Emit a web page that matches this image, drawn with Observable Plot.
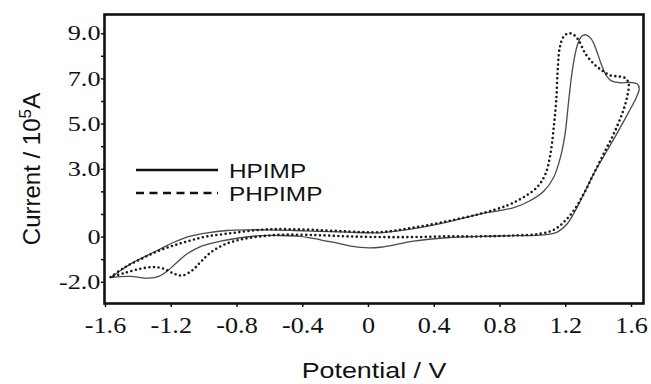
<!DOCTYPE html>
<html>
<head>
<meta charset="utf-8">
<script src="https://cdn.jsdelivr.net/npm/d3@7"></script>
<script src="https://cdn.jsdelivr.net/npm/@observablehq/plot@0.6"></script>
<style>
  html, body { margin: 0; padding: 0; background: white; }
</style>
</head>
<body>
<div id="chart"></div>
<script>
// ---- data (potential in V, current in 10^-5 A) ----
const seriesNames = ["HPIMP", "PHPIMP"];

const hpimpV = [-1.569,-1.508,-1.428,-1.346,-1.265,-1.184,-1.083,-0.981,-0.86,-0.738,-0.616,-0.454,-0.292,-0.13,0.073,0.276,0.479,0.68,0.884,0.985,1.066,1.127,1.168,1.196,1.218,1.243,1.27,1.296,1.324,1.355,1.387,1.415,1.447,1.482,1.533,1.594,1.634,1.647,1.63,1.583,1.522,1.452,1.381,1.32,1.259,1.209,1.148,1.066,0.884,0.68,0.476,0.273,0.073,-0.049,-0.17,-0.292,-0.414,-0.535,-0.657,-0.779,-0.9,-1.022,-1.103,-1.164,-1.215,-1.276,-1.336,-1.448,-1.549,-1.569];
const hpimpI = [-1.80,-1.48,-1.11,-0.81,-0.52,-0.23,0.04,0.19,0.29,0.32,0.32,0.29,0.25,0.22,0.19,0.37,0.66,1.03,1.30,1.62,2.03,2.65,3.54,4.57,6.04,7.52,8.48,8.88,8.95,8.77,8.26,7.67,7.15,6.90,6.83,6.84,6.78,6.56,6.19,5.53,4.72,3.83,2.95,2.06,1.18,0.59,0.22,0.10,0.06,0.03,-0.03,-0.18,-0.45,-0.46,-0.30,-0.12,0.03,0.07,0.06,-0.03,-0.18,-0.42,-0.74,-1.11,-1.45,-1.74,-1.82,-1.74,-1.77,-1.80];

const phpimpV = [-1.569,-1.488,-1.387,-1.286,-1.184,-1.083,-0.981,-0.86,-0.738,-0.616,-0.494,-0.333,-0.13,0.073,0.276,0.479,0.68,0.844,0.945,1.026,1.077,1.107,1.127,1.142,1.152,1.164,1.188,1.218,1.249,1.279,1.32,1.37,1.421,1.472,1.522,1.563,1.583,1.573,1.543,1.492,1.431,1.37,1.31,1.249,1.188,1.127,1.046,0.884,0.68,0.476,0.276,0.073,-0.13,-0.333,-0.535,-0.657,-0.779,-0.88,-0.961,-1.022,-1.073,-1.133,-1.184,-1.245,-1.306,-1.387,-1.488,-1.569];
const phpimpI = [-1.77,-1.36,-0.98,-0.64,-0.37,-0.15,0.03,0.15,0.26,0.34,0.35,0.32,0.25,0.22,0.42,0.70,1.03,1.40,1.77,2.21,2.80,3.69,4.86,6.04,7.52,8.40,8.88,9.02,8.95,8.70,8.11,7.67,7.37,7.15,7.11,7.03,6.78,6.19,5.46,4.57,3.69,2.80,1.92,1.18,0.66,0.32,0.15,0.07,0.03,0.03,0.00,0.00,0.03,0.09,0.10,0.03,-0.11,-0.34,-0.69,-1.11,-1.48,-1.70,-1.62,-1.40,-1.33,-1.40,-1.60,-1.77];

// ---- axis ticks & labels ----
const xTicks = [-1.6,-1.2,-0.8,-0.4,0,0.4,0.8,1.2,1.6];
const xTickLabels = ["-1.6","-1.2","-0.8","-0.4","0","0.4","0.8","1.2","1.6"];
const yTicks = [-2,-1,0,1,2,3,4,5,6,7,8,9];
const yLabelValues = [9,7,5,3,0,-2];
const yTickLabels = ["9.0","7.0","5.0","3.0","0","-2.0"];
const xTitle = "Potential / V";
const yTitleParts = ["Current / 10", "5", "A"];

// ---- build tables ----
const hpimp = hpimpV.map((v, k) => ({v, i: hpimpI[k]}));
const phpimp = phpimpV.map((v, k) => ({v, i: phpimpI[k]}));
const xLab = new Map(xTicks.map((t, k) => [t, xTickLabels[k]]));
const yLab = new Map(yLabelValues.map((t, k) => [t, yTickLabels[k]]));

const serif = "'Liberation Serif', 'Times New Roman', serif";
const sans = "'Liberation Sans', Arial, sans-serif";

const chart = Plot.plot({
  width: 651,
  height: 384,
  marginLeft: 104,
  marginRight: 8,
  marginTop: 14,
  marginBottom: 81,
  style: {background: "white", color: "#111", overflow: "visible"},
  x: {domain: [-1.606, 1.673]},
  y: {domain: [-2.94, 9.85]},
  marks: [
    Plot.axisY(yTicks, {
      anchor: "left", label: null, tickSize: 3, tickPadding: 1,
      strokeWidth: 1.5,
      tickFormat: d => yLab.has(d) ? yLab.get(d) : "",
      fontFamily: serif, fontSize: 21
    }),
    Plot.axisX(xTicks, {
      anchor: "bottom", label: null, tickSize: 4, tickPadding: 9,
      strokeWidth: 1.5,
      tickFormat: d => xLab.get(d),
      fontFamily: serif, fontSize: 23
    }),
    Plot.line(hpimp, {x: "v", y: "i", curve: "catmull-rom", stroke: "#4a4a4a", strokeWidth: 1.3}),
    Plot.line(phpimp, {x: "v", y: "i", curve: "catmull-rom", stroke: "#1a1a1a", strokeWidth: 2.6,
      strokeDasharray: "0,4.6", strokeLinecap: "round"}),
    Plot.frame({stroke: "#111", strokeWidth: 2.6}),
    Plot.text([xTitle], {frameAnchor: "bottom", textAnchor: "middle", lineAnchor: "middle", dy: 67,
      fontFamily: sans, fontSize: 22, fill: "#111", className: "xtitle"}),
    Plot.text([yTitleParts.join("")], {frameAnchor: "left", textAnchor: "middle", lineAnchor: "middle",
      rotate: -90, dx: -72, dy: 10, fontFamily: sans, fontSize: 24, fill: "#111", className: "ytitle"})
  ]
});

document.getElementById("chart").appendChild(chart);
const svg = d3.select(chart);

// superscript in the y title
svg.selectAll(".ytitle text").each(function() {
  const t = d3.select(this);
  t.text(null);
  t.append("tspan").text(yTitleParts[0]);
  t.append("tspan").attr("dy", "-0.55em").attr("font-size", "0.72em").text(yTitleParts[1]);
  t.append("tspan").attr("dy", "0.4em").text(yTitleParts[2]);
});

// legend
const legend = svg.append("g").attr("class", "legend").attr("text-anchor", "start");
const legendStyles = [
  {dash: null, y: 170},
  {dash: "8,5.5", y: 193}
];
seriesNames.forEach((name, k) => {
  const s = legendStyles[k];
  const ln = legend.append("line")
    .attr("x1", 136).attr("x2", 218).attr("y1", s.y).attr("y2", s.y)
    .attr("stroke", "#111").attr("stroke-width", 2.6);
  if (s.dash) ln.attr("stroke-dasharray", s.dash);
  legend.append("text")
    .attr("x", 229).attr("y", s.y).attr("dy", "0.36em")
    .attr("text-anchor", "start")
    .attr("font-family", sans).attr("font-size", 21).attr("fill", "#111")
    .attr("class", "legtext")
    .text(name);
});

// the reference is rendered slightly wide: stretch horizontal texts
function stretch(sel, factor) {
  sel.each(function() {
    const w = this.getComputedTextLength();
    if (w > 0) {
      this.setAttribute("textLength", w * factor);
      this.setAttribute("lengthAdjust", "spacingAndGlyphs");
    }
  });
}
stretch(svg.selectAll("g[aria-label='y-axis tick label'] text"), 1.25);
stretch(svg.selectAll("g[aria-label='x-axis tick label'] text"), 1.14);
stretch(svg.selectAll(".xtitle text"), 1.22);
stretch(svg.selectAll(".legtext"), 1.16);
</script>
</body>
</html>
